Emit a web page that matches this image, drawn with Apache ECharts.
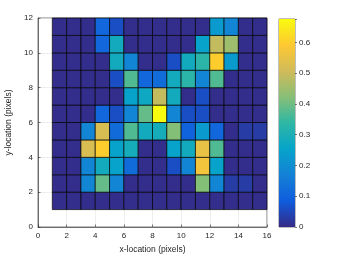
<!DOCTYPE html>
<html><head><meta charset="utf-8">
<script src="https://cdn.jsdelivr.net/npm/echarts@6/dist/echarts.min.js"></script>
<style>html,body{margin:0;padding:0;background:#fff}#c{width:340px;height:255px}</style>
</head><body><div id="c"></div>
<script>
// cell values, rows from y=1 (bottom) to y=11 (top), columns x=1..15
const d = 0.005;
const row1  = [d,d,d,d,d,d,d,d,d,d,d,d,d,d,d];
const row2  = [d,d,0.18,0.39,0.18,d,d,d,d,d,0.42,0.18,0.03,0.03,d];
const row3  = [d,d,0.18,0.28,0.25,0.12,d,d,0.06,0.18,0.57,0.25,d,d,d];
const row4  = [d,d,0.52,0.60,0.25,0.29,d,d,0.25,0.28,0.55,0.37,d,d,d];
const row5  = [d,d,0.18,0.52,0.12,0.37,0.28,0.29,0.42,0.10,0.23,0.11,d,0.03,0.03];
const row6  = [d,d,d,0.11,0.06,0.18,0.39,0.676,0.18,0.06,0.06,d,d,d,d];
const row7  = [d,d,d,d,d,0.25,0.27,0.49,0.28,d,0.06,d,d,d,d];
const row8  = [d,d,d,d,0.06,0.37,0.11,0.12,0.28,0.33,0.18,0.37,d,d,d];
const row9  = [d,d,d,d,0.28,0.18,d,d,0.06,0.28,0.33,0.60,0.23,d,d];
const row10 = [d,d,d,0.11,0.28,d,d,d,d,d,0.25,0.49,0.45,d,d];
const row11 = [d,d,d,0.11,0.06,d,d,d,d,d,d,0.23,0.18,d,d];
const rows = [row1,row2,row3,row4,row5,row6,row7,row8,row9,row10,row11];
const colorMin = 0, colorMax = 0.676;
const colorTickMax = 0.6;
const parula = ['#352a87','#0f5cdd','#1481d6','#06a4ca','#2eb7a4','#87bf77','#d1bb59','#fec832','#f9fb0e'];

const cells = [];
rows.forEach((r, j) => r.forEach((v, i) => cells.push([i + 1, j + 1, v])));

const chart = echarts.init(document.getElementById('c'), null, {renderer: 'canvas'});
const font = 'Helvetica, Arial, "Liberation Sans", sans-serif';
const axCol = '#262626';
const stops = parula.map((c, k) => ({offset: k / (parula.length - 1), color: c}));

chart.setOption({
  animation: false,
  backgroundColor: '#fff',
  grid: [
    {left: 38, right: 73, top: 18, bottom: 28, show: true, borderColor: '#262626', borderWidth: 0.6,
     containLabel: false, outerBoundsMode: 'none'},
    {left: 279, width: 16, top: 19, bottom: 28, show: true, borderColor: '#262626', borderWidth: 0.6,
     containLabel: false, outerBoundsMode: 'none'}
  ],
  xAxis: [
    {type: 'value', gridIndex: 0, min: 0, max: 16, interval: 2,
     name: 'x-location (pixels)', nameLocation: 'middle', nameGap: 13,
     nameTextStyle: {fontFamily: font, fontSize: 8.5, color: axCol},
     axisLine: {show: true, lineStyle: {color: axCol, width: 0.6}},
     axisTick: {show: true, inside: true, length: 2.5, lineStyle: {color: axCol, width: 0.6}},
     axisLabel: {fontFamily: font, fontSize: 8, color: axCol, margin: 5},
     splitLine: {show: true, lineStyle: {color: '#e3e3e3', width: 0.6}}},
    {type: 'category', gridIndex: 1, data: ['c'], show: false}
  ],
  yAxis: [
    {type: 'value', gridIndex: 0, min: 0, max: 12, interval: 2,
     name: 'y-location (pixels)', nameLocation: 'middle', nameGap: 17, nameRotate: 90,
     nameTextStyle: {fontFamily: font, fontSize: 8.5, color: axCol},
     axisLine: {show: true, lineStyle: {color: axCol, width: 0.6}},
     axisTick: {show: true, inside: true, length: 2.5, lineStyle: {color: axCol, width: 0.6}},
     axisLabel: {fontFamily: font, fontSize: 8, color: axCol, margin: 5},
     splitLine: {show: true, lineStyle: {color: '#e3e3e3', width: 0.6}}},
    {type: 'value', gridIndex: 1, min: colorMin, max: colorMax, interval: 0.1, position: 'right',
     axisLine: {show: false},
     axisTick: {show: true, inside: false, length: 2, lineStyle: {color: axCol, width: 0.6}},
     axisLabel: {fontFamily: font, fontSize: 8, color: axCol, margin: 4,
                 formatter: v => (v <= colorTickMax + 1e-6 ? String(Math.round(v * 10) / 10) : '')},
     splitLine: {show: false}}
  ],
  visualMap: {
    show: false, type: 'continuous', min: colorMin, max: colorMax, dimension: 2, seriesIndex: 0,
    inRange: {color: parula}
  },
  series: [
    {type: 'custom', xAxisIndex: 0, yAxisIndex: 0, data: cells, encode: {x: 0, y: 1},
     renderItem: (params, api) => {
       const x = api.value(0), y = api.value(1);
       const p0 = api.coord([x, y + 1]);
       const p1 = api.coord([x + 1, y]);
       return {type: 'rect',
               shape: {x: p0[0], y: p0[1], width: p1[0] - p0[0], height: p1[1] - p0[1]},
               style: {fill: api.visual('color'), stroke: 'rgba(0,0,0,0.85)', lineWidth: 0.8}};
     }},
    {type: 'custom', xAxisIndex: 1, yAxisIndex: 1, data: [[0, colorMax]],
     renderItem: (params, api) => {
       const top = api.coord([0, colorMax]);
       const bot = api.coord([0, colorMin]);
       const cs = params.coordSys;
       return {type: 'rect',
               shape: {x: cs.x, y: top[1], width: cs.width, height: bot[1] - top[1]},
               style: {fill: new echarts.graphic.LinearGradient(0, 1, 0, 0, stops)}};
     }}
  ]
});
</script></body></html>
